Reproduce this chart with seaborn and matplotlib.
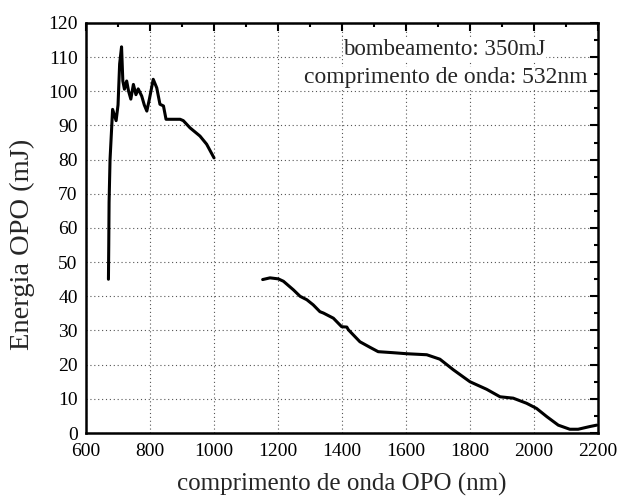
import matplotlib
matplotlib.use("Agg")
import matplotlib.pyplot as plt
from matplotlib.ticker import MultipleLocator
import seaborn as sns
import pandas as pd

# Visible band (signal) of the OPO
signal_nm = [670, 671, 672, 675, 683, 694, 700, 705, 711, 715, 720, 727, 733,
             740, 748, 756, 763, 774, 782, 790, 798, 810, 821, 831, 842, 850,
             870, 894, 904, 925, 956, 977, 1000]
signal_mJ = [45, 55, 67.5, 80, 94.7, 91.4, 96, 108, 113, 103, 100.6, 103, 100,
             97.7, 102, 99, 100.7, 98.6, 96, 94.2, 97.7, 103.5, 101, 96.2, 95.7,
             91.8, 91.8, 91.8, 91.4, 89.3, 86.9, 84.5, 80.5]

# Infrared band (idler) of the OPO
idler_nm = [1152, 1175, 1201, 1217, 1248, 1269, 1290, 1310, 1331, 1342, 1373,
            1399, 1415, 1420, 1456, 1487, 1513, 1560, 1602, 1665, 1706, 1748,
            1800, 1852, 1894, 1935, 1977, 2008, 2040, 2076, 2112, 2138, 2175, 2196]
idler_mJ = [44.9, 45.4, 45.1, 44.4, 41.9, 40, 39, 37.5, 35.5, 35.1, 33.6,
            31.1, 31, 30.2, 26.7, 25.1, 23.8, 23.5, 23.2, 22.9, 21.6, 18.5,
            15, 12.8, 10.6, 10.2, 8.7, 7.2, 4.8, 2.3, 1.1, 1.1, 1.9, 2.3]

x_ticks = list(range(600, 2201, 200))
y_ticks = list(range(0, 121, 10))

sns.set_style("white")
plt.rcParams["font.family"] = ["Liberation Serif", "DejaVu Serif"]

fig = plt.figure(figsize=(6.19, 4.98), dpi=100)
ax = fig.add_axes([0.139, 0.1305, 0.827, 0.8235])

sig = pd.DataFrame({"nm": signal_nm, "mJ": signal_mJ})
idl = pd.DataFrame({"nm": idler_nm, "mJ": idler_mJ})
sns.lineplot(data=sig, x="nm", y="mJ", ax=ax, color="black", lw=2.2,
             sort=False, estimator=None)
sns.lineplot(data=idl, x="nm", y="mJ", ax=ax, color="black", lw=2.2,
             sort=False, estimator=None)

ax.set_xlim(600, 2200)
ax.set_ylim(0, 120)
ax.set_xticks(x_ticks)
ax.set_yticks(y_ticks)
ax.xaxis.set_minor_locator(MultipleLocator(100))
ax.yaxis.set_minor_locator(MultipleLocator(5))
ax.tick_params(which="both", direction="in", top=True, right=True,
               labelsize=14, width=1.5, colors="black")
ax.tick_params(which="major", length=6)
ax.tick_params(which="minor", length=3)
ax.tick_params(axis="x", which="major", pad=7)
ax.tick_params(axis="y", which="major", pad=6)
ax.grid(True, which="major", linestyle=(0, (1, 2.5)), color="#555555", lw=0.8)
for s in ax.spines.values():
    s.set_linewidth(1.8)
    s.set_color("black")

ax.set_xlabel("comprimento de onda OPO (nm)", fontsize=18)
ax.xaxis.set_label_coords(0.5, -0.125)
ax.xaxis.label.set_va("center")
ax.set_ylabel("Energia OPO (mJ)", fontsize=20.5)
ax.yaxis.set_label_coords(-0.10, 0.46)

ax.text(0.70, 0.934, "bombeamento: 350mJ", transform=ax.transAxes,
        ha="center", va="center", fontsize=16.5,
        bbox=dict(facecolor="white", edgecolor="none", pad=0.5))
ax.text(0.979, 0.866, "comprimento de onda: 532nm", transform=ax.transAxes,
        ha="right", va="center", fontsize=17,
        bbox=dict(facecolor="white", edgecolor="none", pad=0.5))

fig.savefig("out.png", dpi=100)
